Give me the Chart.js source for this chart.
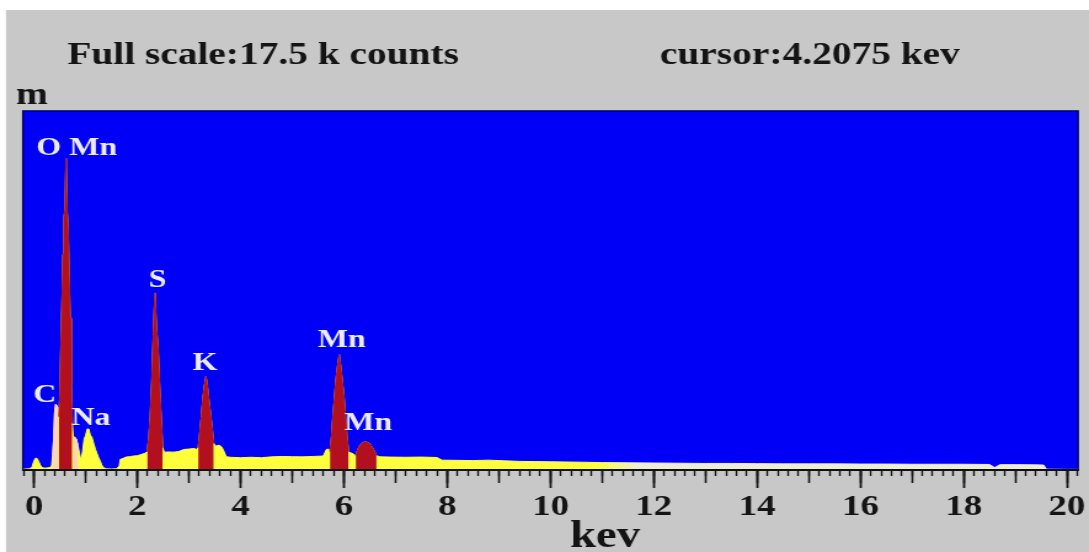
<!DOCTYPE html>
<html>
<head>
<meta charset="utf-8">
<title>EDS spectrum</title>
<script src="https://cdn.jsdelivr.net/npm/chart.js@4.4.1/dist/chart.umd.min.js"></script>
<style>
  html, body { margin: 0; padding: 0; background: #ffffff; overflow: hidden; }
  /* the instrument screen uses wide lettering: draw at 885px and stretch horizontally to 1089px */
  #stage { width: 885px; height: 552px; transform: scaleX(1.230508); transform-origin: 0 0; }
</style>
</head>
<body>
<div id="stage"><canvas id="eds"></canvas></div>
<script>
// ---- spectrum data (energy in keV, intensity in counts) ----
const energyKeV = [
  -0.21, -0.10, -0.04, -0.02, 0.00, 0.03, 0.06, 0.09, 0.12, 0.15, 0.20, 0.25, 0.30, 0.34,
  0.36, 0.38, 0.40, 0.42, 0.45, 0.47,
  0.48, 0.50, 0.52, 0.54, 0.56, 0.58, 0.60, 0.62, 0.64, 0.66, 0.68, 0.70, 0.72, 0.74,
  0.76, 0.79, 0.82, 0.85, 0.88, 0.91, 0.94, 0.97, 1.00, 1.03, 1.06, 1.09, 1.12, 1.16, 1.19, 1.22, 1.25, 1.28, 1.31, 1.34, 1.40, 1.50, 1.60, 1.65,
  1.67, 1.72, 1.78, 1.85, 1.92, 2.00, 2.08, 2.15,
  2.19, 2.22, 2.25, 2.28, 2.31, 2.34, 2.37, 2.40, 2.43, 2.46, 2.49,
  2.52, 2.60, 2.70, 2.80, 2.90, 3.00, 3.10, 3.15,
  3.18, 3.21, 3.24, 3.27, 3.30, 3.33, 3.36, 3.39, 3.42, 3.45, 3.48,
  3.52, 3.56, 3.60, 3.64, 3.68, 3.72, 3.80, 4.00, 4.20, 4.40, 4.60, 4.80, 5.00, 5.20, 5.40, 5.60, 5.66, 5.70,
  5.73, 5.76, 5.79, 5.82, 5.85, 5.88, 5.91, 5.94, 5.97, 6.00, 6.03, 6.06, 6.09,
  6.12, 6.17, 6.20,
  6.23, 6.27, 6.31, 6.35, 6.39, 6.43, 6.47, 6.51, 6.55, 6.59, 6.63,
  6.70, 6.90, 7.20, 7.50, 7.80, 7.90, 8.20, 8.50, 8.80, 9.10, 9.40, 9.70, 10.0, 10.3, 10.6,
  11.0, 11.5, 12.0, 12.5, 13.0, 13.5, 14.0, 14.5, 15.0, 15.5, 16.0, 16.5, 17.0, 17.5, 18.0,
  18.5, 18.6, 18.7, 19.0, 19.4, 19.55, 19.6, 20.0, 20.21
];
const counts = [
  40, 60, 120, 300, 450, 580, 560, 420, 250, 130, 90, 100, 120, 200,
  700, 1500, 2800, 3200, 3100, 3000,
  2600, 3600, 6000, 8000, 10500, 12300, 12700, 15200, 12600, 11800, 9500, 7400, 4200, 2300,
  1600, 1600, 1500, 1200, 800, 450, 900, 1500, 1700, 2000, 2000, 1700, 1600, 1250, 1000, 800, 600, 450, 250, 120, 60, 50, 60, 200,
  520, 560, 630, 650, 680, 700, 760, 820,
  900, 1500, 2600, 4300, 6600, 8630, 6900, 6000, 4200, 2600, 1100,
  870, 880, 870, 900, 1000, 1020, 1050, 1000,
  1100, 1800, 2600, 3500, 4100, 4560, 4000, 3300, 2700, 2000, 1300,
  1160, 1200, 1200, 1100, 900, 650, 620, 600, 620, 600, 640, 660, 650, 640, 660, 680, 1000, 1020,
  900, 1600, 2700, 3600, 4500, 5100, 5620, 5000, 4300, 3600, 2600, 1600, 900,
  850, 800, 750,
  700, 1000, 1200, 1300, 1360, 1360, 1340, 1250, 1100, 900, 700,
  640, 630, 620, 630, 610, 480, 470, 460, 480, 450, 420, 410, 400, 390, 380,
  360, 350, 340, 330, 320, 320, 310, 300, 300, 300, 290, 290, 280, 280, 280,
  270, 120, 260, 260, 250, 240, 40, 30, 30
];

// regions of interest (keV) marked on the spectrum
const peakWindows = [[0.48, 0.74], [2.19, 2.49], [3.18, 3.48], [5.73, 6.09], [6.23, 6.63]];
const shoulderWindows = [[0.36, 0.47], [0.76, 0.85]];

// element labels and where they sit (keV, counts)
const peakLabels      = ['O Mn', 'S',  'K',  'Mn', 'Mn', 'C',  'Na'];
const peakLabelKeV    = [0.83,   2.39, 3.31, 5.96, 6.47, 0.21, 1.10];
const peakLabelCounts = [15350,  8940, 4880, 6010, 1950, 3330, 2190];

// axis settings
const fullScaleCounts = 17500;
const energyMin = -0.213, energyMax = 20.213;
const energyLabelStep = 2;

// ---- drawing ----
const STRETCH = 1089 / 885;
const SERIF = '"Liberation Serif", "Times New Roman", serif';

const inside = (e, wins) => wins.some(([a, b]) => e >= a - 1e-9 && e <= b + 1e-9);
const spectrumPts = energyKeV.map((e, i) => ({ x: e, y: counts[i] }));
const peakPts = energyKeV.map((e, i) => ({ x: e, y: inside(e, peakWindows) ? counts[i] : null }));
const shoulderPts = energyKeV.map((e, i) => ({ x: e, y: inside(e, shoulderWindows) ? counts[i] : null }));

function spectrumFill(c) {
  const chart = c.chart;
  if (!chart.chartArea || !chart.scales.x) return '#ffff3c';
  const xs = chart.scales.x;
  const g = chart.ctx.createLinearGradient(xs.getPixelForValue(10.9), 0, xs.getPixelForValue(11.7), 0);
  g.addColorStop(0, '#ffff3c');
  g.addColorStop(1, '#eeeed8');
  return g;
}

const screenBackdrop = {
  id: 'screenBackdrop',
  beforeDraw(chart) {
    const { ctx, width, height, chartArea: a } = chart;
    ctx.save();
    ctx.fillStyle = '#ffffff';
    ctx.fillRect(0, 0, width, height);
    ctx.fillStyle = '#c8c8c8';
    ctx.fillRect(6 / STRETCH, 10, width, height);
    ctx.fillStyle = '#0000f6';
    ctx.fillRect(a.left, a.top, a.right - a.left, a.bottom - a.top);
    ctx.strokeStyle = '#00006e';
    ctx.lineWidth = 1.6;
    ctx.strokeRect(a.left, a.top, a.right - a.left, a.bottom - a.top);
    ctx.restore();
  }
};

const elementLabels = {
  id: 'elementLabels',
  afterDatasetsDraw(chart) {
    const { ctx, scales: { x, y } } = chart;
    ctx.save();
    ctx.font = 'bold 26px ' + SERIF;
    ctx.fillStyle = '#ececf8';
    ctx.textAlign = 'center';
    ctx.textBaseline = 'alphabetic';
    peakLabels.forEach((t, i) => {
      ctx.fillText(t, x.getPixelForValue(peakLabelKeV[i]), y.getPixelForValue(peakLabelCounts[i]));
    });
    ctx.restore();
  }
};

const screenText = {
  id: 'screenText',
  afterDraw(chart) {
    const { ctx } = chart;
    ctx.save();
    ctx.fillStyle = '#141414';
    ctx.textBaseline = 'alphabetic';
    ctx.textAlign = 'left';
    ctx.font = 'bold 32px ' + SERIF;
    ctx.fillText('Full scale:' + (fullScaleCounts / 1000) + ' k counts', 67.3 / STRETCH, 64);
    ctx.fillText('cursor:4.2075 kev', 660 / STRETCH, 64);
    ctx.font = 'bold 31px ' + SERIF;
    ctx.fillText('m', 16 / STRETCH, 104);
    ctx.font = 'bold 38px ' + SERIF;
    ctx.textAlign = 'center';
    ctx.fillText('kev', 605 / STRETCH, 547);
    ctx.restore();
  }
};

const tickAxis = (step, len, width) => ({
  type: 'linear', axis: 'x', position: { y: 0 },
  min: energyMin, max: energyMax,
  ticks: { stepSize: step, includeBounds: false, display: false },
  grid: { drawOnChartArea: false, drawTicks: true, tickLength: len, tickWidth: width, color: '#161616', tickColor: '#161616' },
  border: { display: false }
});

new Chart(document.getElementById('eds'), {
  type: 'line',
  data: {
    datasets: [
      { label: 'peaks', data: peakPts, order: 0, fill: 'origin', spanGaps: false,
        backgroundColor: '#b2101e', borderColor: '#b2101e', borderWidth: 1, pointRadius: 0, tension: 0 },
      { label: 'shoulders', data: shoulderPts, order: 1, fill: 'origin', spanGaps: false,
        backgroundColor: '#ffd2c8', borderColor: '#ffd2c8', borderWidth: 1, pointRadius: 0, tension: 0 },
      { label: 'spectrum', data: spectrumPts, order: 2, fill: 'origin',
        backgroundColor: spectrumFill, borderColor: spectrumFill, borderWidth: 1, pointRadius: 0, tension: 0 }
    ]
  },
  options: {
    responsive: true,
    maintainAspectRatio: false,
    animation: false,
    events: [],
    layout: { padding: { left: 23 / STRETCH, right: 885 - 1078 / STRETCH, top: 111, bottom: 0 } },
    plugins: { legend: { display: false }, tooltip: { enabled: false }, title: { display: false } },
    scales: {
      x: {
        type: 'linear', position: 'bottom',
        min: energyMin, max: energyMax,
        ticks: {
          stepSize: energyLabelStep, includeBounds: false, maxRotation: 0, autoSkip: false,
          padding: 1, color: '#141414',
          font: { family: SERIF, size: 30, weight: 'bold' },
          callback: v => String(v)
        },
        grid: { drawOnChartArea: false, tickLength: 18, tickWidth: 1.8, color: '#161616', tickColor: '#161616' },
        border: { display: true, color: '#101010', width: 2, z: 1 },
        afterFit(scale) { scale.height = 82; scale.paddingLeft = 0; scale.paddingRight = 0; }
      },
      xMid: tickAxis(1, 13, 1.6),
      xMinor: tickAxis(0.2, 6, 1.4),
      y: { display: false, min: 0, max: fullScaleCounts }
    }
  },
  plugins: [screenBackdrop, elementLabels, screenText]
});
</script>
</body>
</html>
